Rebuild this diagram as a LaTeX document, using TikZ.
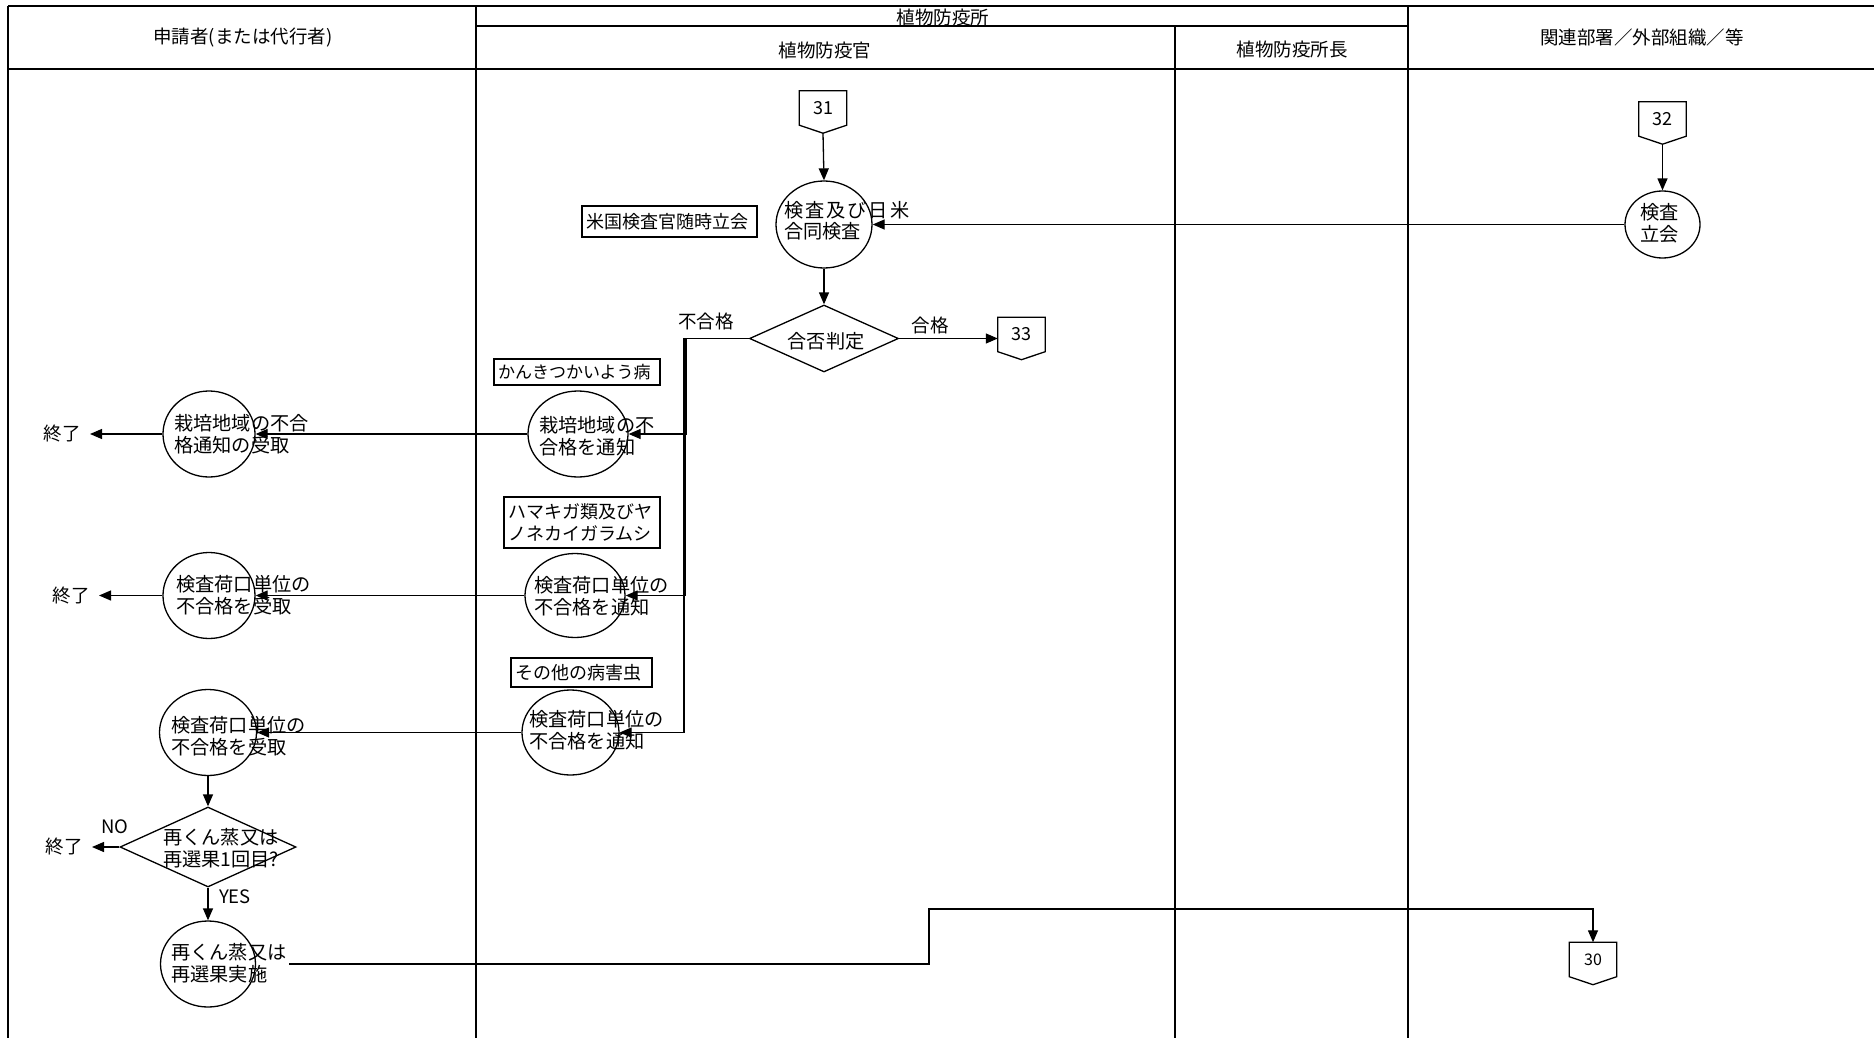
\documentclass[tikz,border=0pt]{standalone}
\usepackage{fontspec}
\setmainfont{Noto Sans CJK JP}
\usetikzlibrary{shapes.geometric,arrows.meta}
\tikzset{
 lane/.style={line width=1.3pt},
 hdr/.style={line width=2pt},
 arr/.style={line width=1.3pt,-{Triangle[length=12pt,width=10pt]}},
 ln/.style={line width=1.3pt},
 circ/.style={draw,ellipse,line width=1.3pt,inner sep=0pt},
 dia/.style={draw,diamond,line width=1.3pt,inner sep=0pt},
 tx/.style={font=\fontsize{19.2}{21.5}\selectfont,inner sep=0pt,align=left},
 htx/.style={font=\fontsize{18.5}{20}\selectfont,inner sep=0pt},
 lbl/.style={font=\fontsize{18.5}{20}\selectfont,inner sep=0pt},
 note/.style={draw,line width=1.3pt,font=\fontsize{18}{21.5}\selectfont,inner xsep=4pt,inner ysep=0pt,align=left},
 offp/.style={minimum width=47pt,minimum height=34pt,inner sep=0pt,font=\fontsize{18}{20}\selectfont},
 endl/.style={font=\fontsize{18.5}{20}\selectfont,inner xsep=9pt,inner ysep=0pt},
}
\newcommand\offpagebox[1]{\draw[ln] (#1.north west) -- (#1.north east) -- (#1.south east) -- ([yshift=-8pt]#1.south) -- (#1.south west) -- cycle;}
\begin{document}
\begin{tikzpicture}[x=1pt,y=-1pt]
\useasboundingbox (0,0) rectangle (1874,1038);
\fill[white] (0,0) rectangle (1874,1038);
% swimlanes
\draw[hdr] (8,6) -- (1874,6);
\draw[hdr] (8,69) -- (1874,69);
\draw[lane] (476,26) -- (1408,26);
\draw[lane] (8,6) -- (8,1038);
\draw[lane] (476,6) -- (476,1038);
\draw[lane] (1175,26) -- (1175,1038);
\draw[lane] (1408,6) -- (1408,1038);
\node[htx] (h1) at (243,38) {申請者(または代行者)};
\node[htx] (h2) at (943,17) {植物防疫所};
\node[htx] (h3) at (825,50) {植物防疫官};
\node[htx] (h4) at (1292,49) {植物防疫所長};
\node[htx] (h5) at (1642,37) {関連部署／外部組織／等};
% top part
\node[offp] (n31) at (823,108) {31}; \offpagebox{n31}
\node[circ,minimum width=96pt,minimum height=87pt] (gA) at (824,224.5) {};
\node[tx,anchor=west] (gAt) at (784,221) {検\kern2pt 査\kern2pt 及\kern2pt び\kern2pt 日\kern2pt 米\\合同検査};
\node[note,text width=167pt,minimum height=31pt] (b1) at (669.5,221.5) {米国検査官随時立会};
\node[offp] (n32) at (1662.5,119) {32}; \offpagebox{n32}
\node[circ,minimum width=75pt,minimum height=67pt] (k) at (1662.5,224.5) {};
\node[tx,anchor=west] (kt) at (1640,223) {検査\\立会};
\node[dia,minimum width=149pt,minimum height=67pt] (dj) at (824,338.5) {};
\node[tx] (djt) at (826,341) {合否判定};
\node[offp] (n33) at (1021.5,334.5) {33}; \offpagebox{n33}
\node[lbl] (lng) at (706,321) {不合格};
\node[lbl] (lok) at (930,325) {合格};
% middle column
\node[note,font=\fontsize{17}{21}\selectfont,text width=158pt,minimum height=26pt] (b2) at (577,372) {かんきつかいよう病};
\node[circ,minimum width=100pt,minimum height=86pt] (m1) at (578,434) {};
\node[tx,anchor=west] (m1t) at (539,436) {栽培地域の不\\合格を通知};
\node[note,text width=148pt,minimum height=51pt] (b3) at (582,522.5) {ハマキガ類及びヤ\\ノネカイガラムシ};
\node[circ,minimum width=100pt,minimum height=84pt] (m2) at (575,595.5) {};
\node[tx,anchor=west] (m2t) at (534,596) {検査荷口単位の\\不合格を通知};
\node[note,text width=133pt,minimum height=29pt] (b4) at (581.5,672.5) {その他の病害虫};
\node[circ,minimum width=97pt,minimum height=85pt] (m3) at (570.5,732.5) {};
\node[tx,anchor=west] (m3t) at (529,730) {検査荷口単位の\\不合格を通知};
% left column
\node[circ,minimum width=92pt,minimum height=86pt] (l1) at (209,434) {};
\node[tx,anchor=west] (l1t) at (174,434) {栽培地域の不合\\格通知の受取};
\node[endl,anchor=east] (e1) at (90,434) {終了};
\node[circ,minimum width=92pt,minimum height=86pt] (l2) at (209,595.5) {};
\node[tx,anchor=west] (l2t) at (176,595) {検査荷口単位の\\不合格を受取};
\node[endl,anchor=east] (e2) at (99,595.5) {終了};
\node[circ,minimum width=97pt,minimum height=86pt] (l3) at (208,732.5) {};
\node[tx,anchor=west] (l3t) at (171,736) {検査荷口単位の\\不合格を受取};
\node[dia,minimum width=176pt,minimum height=80pt] (dq) at (208,847) {};
\node[tx,anchor=west] (dqt) at (163,848) {再くん蒸又は\\再選果1回目?};
\node[endl,anchor=east] (e3) at (92,847) {終了};
\node[lbl] (lno) at (115,827) {NO};
\node[lbl] (lyes) at (235,897) {YES};
\node[circ,minimum width=95pt,minimum height=86pt] (l4) at (208,964) {};
\node[tx,anchor=west] (l4t) at (171,963) {再くん蒸又は\\再選果実施};
\node[offp,font=\fontsize{16}{18}\selectfont] (n30) at (1593,959.5) {30}; \offpagebox{n30}
\coordinate (s30) at (289,964);
% connectors
\draw[arr] ([yshift=-8pt]n31.south) -- (gA.north);
\draw[arr] ([yshift=-8pt]n32.south) -- (k.north);
\draw[arr] (k.west) -- (gA.east);
\draw[arr] (gA.south) -- (dj.north);
\draw[arr] (dj.east) -- (dj.east -| n33.west);
\draw[arr] (dj.west) -- ++(-62.5,0) |- (m1.east);
\draw[arr] (dj.west) -- ++(-63.5,0) |- (m2.east);
\draw[arr] (dj.west) -- ++(-65,0) |- (m3.east);
\draw[arr] (m1.west) -- (l1.east);
\draw[arr] (l1.west) -- (e1.east);
\draw[arr] (m2.west) -- (l2.east);
\draw[arr] (l2.west) -- (e2.east);
\draw[arr] (m3.west) -- (l3.east);
\draw[arr] (l3.south) -- (dq.north);
\draw[arr] (dq.west) -- (e3.east);
\draw[arr] (dq.south) -- (l4.north);
\draw[arr] (s30) -- ++(640,0) -- ++(0,-55) -| (n30.north);
\end{tikzpicture}
\end{document}
